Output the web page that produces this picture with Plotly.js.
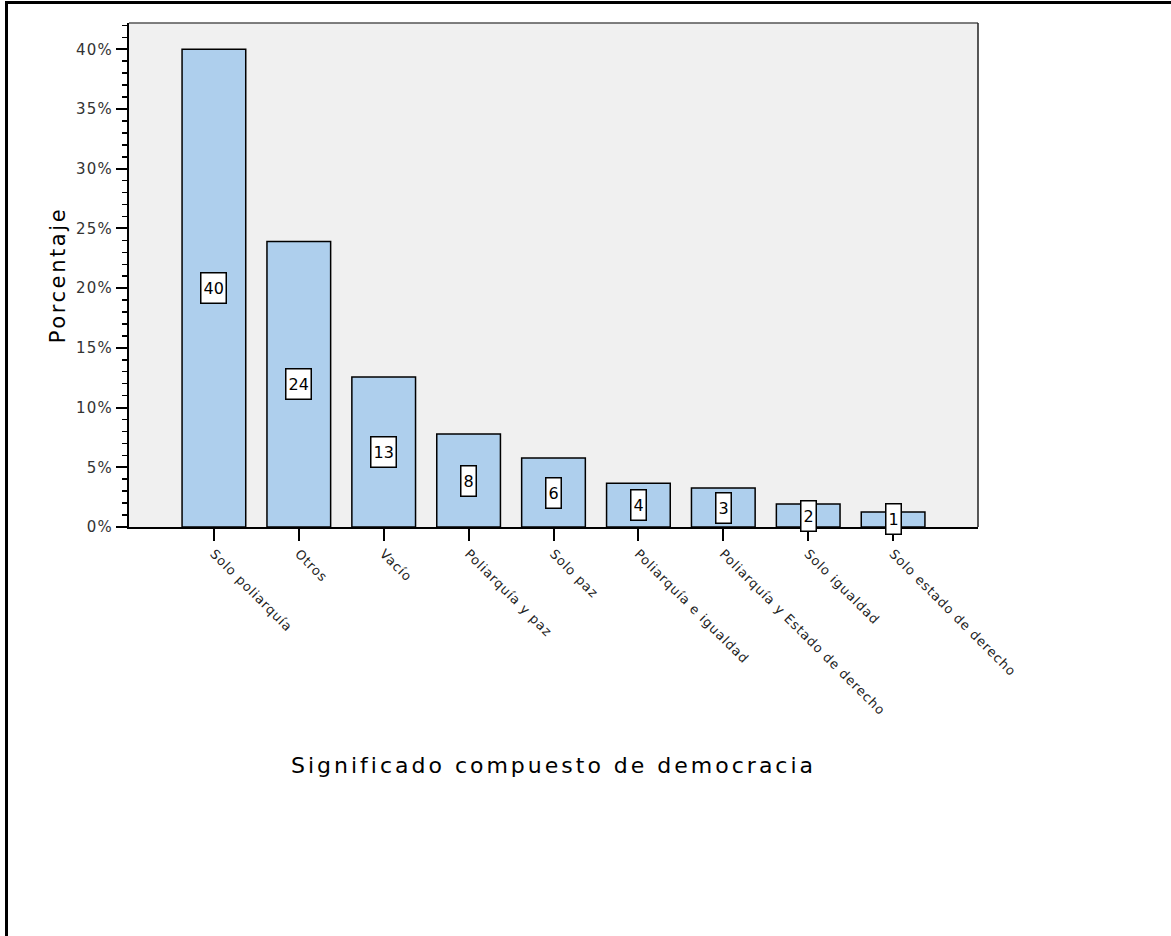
<!DOCTYPE html>
<html>
<head>
<meta charset="utf-8">
<script src="https://cdn.plot.ly/plotly-3.0.1.min.js"></script>
<style>
  html, body { margin:0; padding:0; background:#fff; }
  #wrap { position:relative; width:1171px; height:936px; }
  #chart { position:absolute; left:0; top:0; width:1171px; height:936px; }
  #frame { position:absolute; left:5px; top:1px; width:1166px; height:935px;
           border-left:3px solid #000; border-top:3px solid #000; pointer-events:none; box-sizing:border-box; }
  #chart .g-xtitle text { letter-spacing: 3px; }
  #chart .g-ytitle text { letter-spacing: 2.6px; }
  #chart .xtick text { letter-spacing: 0.9px; }
  #chart .ytick text { letter-spacing: 1.2px; }
</style>
</head>
<body>
<div id="wrap"><div id="chart"></div><div id="frame"></div></div>
<script>
const categories = ["Solo poliarquía", "Otros", "Vacío", "Poliarquía y paz", "Solo paz",
  "Poliarquía e igualdad", "Poliarquía y Estado de derecho", "Solo igualdad", "Solo estado de derecho"];
const percentages = [40.0, 23.9, 12.55, 7.78, 5.77, 3.66, 3.26, 1.92, 1.26];
const yTickValues = [0, 5, 10, 15, 20, 25, 30, 35, 40];

const FONT = "DejaVu Sans, sans-serif";

const trace = {
  type: "bar",
  x: categories,
  y: percentages,
  width: 0.75,
  marker: { color: "#aecfed", line: { color: "#000", width: 1.5 } },
  hoverinfo: "skip"
};

const annotations = categories.map((c, i) => ({
  x: c, y: percentages[i] / 2, xref: "x", yref: "y",
  text: String(Math.round(percentages[i])),
  showarrow: false,
  font: { family: FONT, size: 16, color: "#000" },
  bgcolor: "#fff", bordercolor: "#000", borderwidth: 1.5, borderpad: 2,
  height: 25
}));

const layout = {
  width: 1171, height: 936,
  margin: { l: 129, r: 193, t: 23, b: 409 },
  paper_bgcolor: "#fff",
  plot_bgcolor: "#f0f0f0",
  showlegend: false,
  xaxis: {
    type: "category",
    range: [-1, 9],
    showline: true, linecolor: "#000", linewidth: 2,
    ticks: "outside", ticklen: 12, tickwidth: 2, tickcolor: "#000",
    tickangle: 45,
    tickfont: { family: FONT, size: 13, color: "#222" },
    showgrid: false, zeroline: false,
    title: { text: "Significado compuesto de democracia", font: { family: FONT, size: 22, color: "#000" }, standoff: 60 },
    automargin: false
  },
  yaxis: {
    range: [0, 42.2],
    tickvals: yTickValues,
    ticktext: yTickValues.map(v => v + "%"),
    showline: true, linecolor: "#000", linewidth: 2,
    ticks: "outside", ticklen: 11, tickwidth: 2, tickcolor: "#000",
    minor: { dtick: 1, ticks: "outside", ticklen: 5, tickwidth: 1.5, tickcolor: "#000", showgrid: false },
    tickfont: { family: FONT, size: 15, color: "#333" },
    showgrid: false, zeroline: false,
    title: { text: "Porcentaje", font: { family: FONT, size: 21, color: "#000" }, standoff: 8 },
    automargin: false
  },
  shapes: [
    { type: "line", xref: "paper", yref: "paper", x0: 0, x1: 1, y0: 1, y1: 1, line: { color: "#555", width: 1.5 } },
    { type: "line", xref: "paper", yref: "paper", x0: 1, x1: 1, y0: 0, y1: 1, line: { color: "#222", width: 1.5 } }
  ],
  annotations: annotations
};

Plotly.newPlot("chart", [trace], layout, { staticPlot: true, displayModeBar: false });
</script>
</body>
</html>
